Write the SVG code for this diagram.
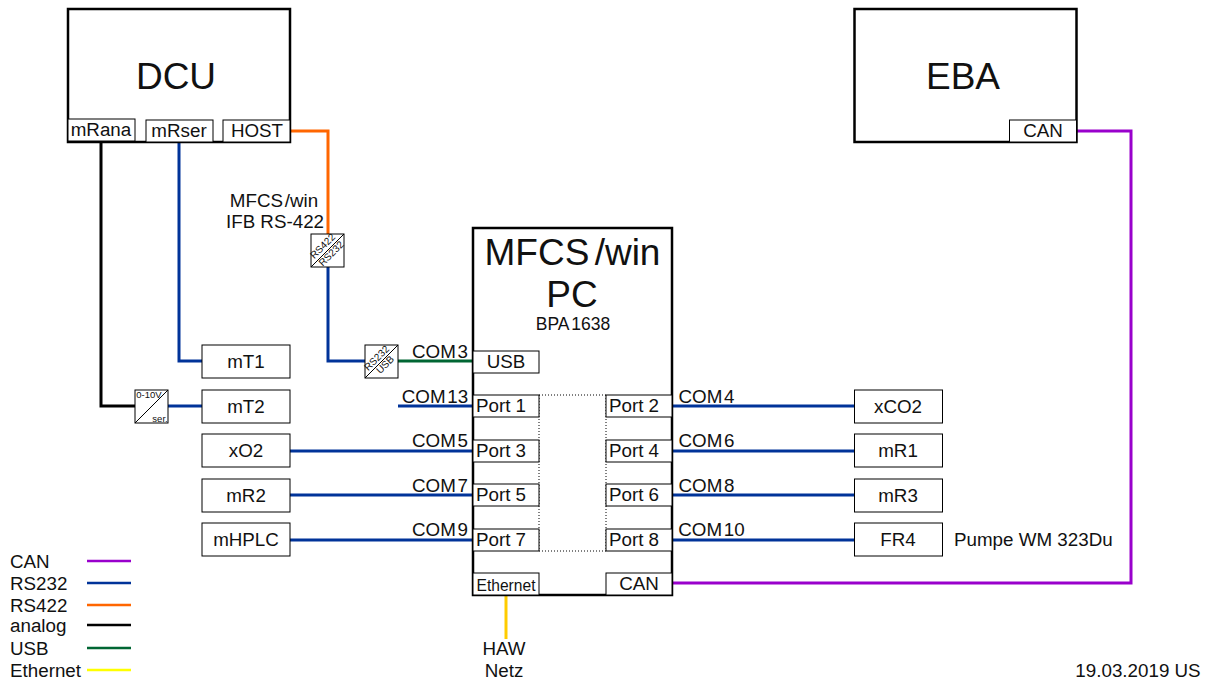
<svg xmlns="http://www.w3.org/2000/svg" width="1207" height="682" viewBox="0 0 1207 682">
<style>
text{font-family:"Liberation Sans",Arial,sans-serif;fill:#111;text-anchor:middle}
.box{fill:#fff;stroke:#000;stroke-width:1}
.big{fill:#fff;stroke:#000;stroke-width:2.5}
.w{fill:none;stroke-width:3}
.rs232{stroke:#003399}.rs422{stroke:#ff6600}.can{stroke:#9900cc}.analog{stroke:#000}.usb{stroke:#006633}.eth{stroke:#ffcc00}.ethl{stroke:#ffff00}
.l{stroke-width:2.5;fill:none}
.t{font-size:18.8px}.s{text-anchor:start;font-size:18.8px}
.c{font-size:18.8px;word-spacing:-3.5px}
.m{font-size:10px}
.d{fill:none;stroke:#000;stroke-width:1;stroke-dasharray:1 2}
</style>
<rect width="1207" height="682" fill="#fff"/>
<g id="connectors">
<path class="w rs422" d="M290 131H328V236"/>
<path class="w rs232" d="M328 267V361H365"/>
<path class="w usb" d="M398 361H473"/>
<path class="w analog" d="M101 142V406H135"/>
<path class="w rs232" d="M168 406H202"/>
<path class="w rs232" d="M179 142V361H202"/>
<path class="w rs232" d="M398 406H473"/>
<path class="w rs232" d="M290 451H473"/>
<path class="w rs232" d="M290 495H473"/>
<path class="w rs232" d="M290 540H473"/>
<path class="w rs232" d="M672 406H854"/>
<path class="w rs232" d="M672 451H854"/>
<path class="w rs232" d="M672 495H854"/>
<path class="w rs232" d="M672 540H854"/>
<path class="w can" d="M1076 131H1131V583H672"/>
<path class="w eth" d="M506 595V639"/>
</g>
<g id="dcu"><rect class="big" x="68" y="9" width="222" height="133"/><text x="176" y="89" font-size="37">DCU</text></g>
<g id="mrana"><rect class="box" x="68" y="119" width="67" height="22"/><text class="t" x="101" y="136">mRana</text></g>
<g id="mrser"><rect class="box" x="146" y="120" width="67" height="22"/><text class="t" x="179" y="137">mRser</text></g>
<g id="host"><rect class="box" x="223" y="120" width="67" height="22"/><text class="t" x="257" y="137">HOST</text></g>
<g id="eba"><rect class="big" x="854.5" y="9" width="222" height="133"/><text x="963" y="89" font-size="37">EBA</text></g>
<g id="eba-can"><rect class="box" x="1009.5" y="120" width="67" height="22"/><text class="t" x="1043" y="137">CAN</text></g>
<g id="pc"><rect class="big" x="473" y="228" width="199" height="367"/>
<text x="572.5" y="265" font-size="37" style="word-spacing:-5px">MFCS /win</text><text x="572" y="307" font-size="37">PC</text><text x="573" y="330" font-size="17.5" style="word-spacing:-2px">BPA 1638</text></g>
<path class="d" d="M539 395H606M539 551H606M539 395V551M606 395V551"/>
<g id="usb"><rect class="box" x="473" y="351" width="66" height="22"/><text class="t" x="506" y="368">USB</text></g>
<g id="port1"><rect class="box" x="473" y="395" width="66" height="22"/><text class="t" x="501" y="412">Port 1</text></g>
<g id="port2"><rect class="box" x="606" y="395" width="66" height="22"/><text class="t" x="634" y="412">Port 2</text></g>
<g id="port3"><rect class="box" x="473" y="440" width="66" height="22"/><text class="t" x="501" y="457">Port 3</text></g>
<g id="port4"><rect class="box" x="606" y="440" width="66" height="22"/><text class="t" x="634" y="457">Port 4</text></g>
<g id="port5"><rect class="box" x="473" y="484" width="66" height="22"/><text class="t" x="501" y="501">Port 5</text></g>
<g id="port6"><rect class="box" x="606" y="484" width="66" height="22"/><text class="t" x="634" y="501">Port 6</text></g>
<g id="port7"><rect class="box" x="473" y="529" width="66" height="22"/><text class="t" x="501" y="546">Port 7</text></g>
<g id="port8"><rect class="box" x="606" y="529" width="66" height="22"/><text class="t" x="634" y="546">Port 8</text></g>
<g id="ethernet"><rect class="box" x="473" y="573" width="66" height="22"/><text x="506" y="591" font-size="15.6">Ethernet</text></g>
<g id="pc-can"><rect class="box" x="606" y="573" width="66" height="22"/><text class="t" x="639" y="590">CAN</text></g>
<g id="mt1"><rect class="box" x="202" y="345" width="88" height="33"/><text class="t" x="246" y="368">mT1</text></g>
<g id="mt2"><rect class="box" x="202" y="390" width="88" height="33"/><text class="t" x="246" y="413">mT2</text></g>
<g id="xo2"><rect class="box" x="202" y="434" width="88" height="33"/><text class="t" x="246" y="457">xO2</text></g>
<g id="mr2"><rect class="box" x="202" y="479" width="88" height="33"/><text class="t" x="246" y="502">mR2</text></g>
<g id="mhplc"><rect class="box" x="202" y="523" width="88" height="33"/><text class="t" x="246" y="546">mHPLC</text></g>
<g id="xco2"><rect class="box" x="854.5" y="390" width="88" height="33"/><text class="t" x="898" y="413">xCO2</text></g>
<g id="mr1"><rect class="box" x="854.5" y="434" width="88" height="33"/><text class="t" x="898" y="457">mR1</text></g>
<g id="mr3"><rect class="box" x="854.5" y="479" width="88" height="33"/><text class="t" x="898" y="502">mR3</text></g>
<g id="fr4"><rect class="box" x="854.5" y="523" width="88" height="33"/><text class="t" x="898" y="546">FR4</text></g>
<g id="conv-422"><rect class="box" x="311" y="234" width="33" height="33"/><path d="M311 267L344 234" stroke="#000"/>
<text class="m" transform="translate(325 248.5) rotate(-45)">RS422</text><text class="m" transform="translate(333.5 256) rotate(-45)">RS232</text></g>
<g id="conv-usb"><rect class="box" x="365" y="345" width="33" height="33"/><path d="M365 378L398 345" stroke="#000"/>
<text class="m" transform="translate(379 360.5) rotate(-45)">RS232</text><text class="m" transform="translate(387.5 367) rotate(-45)">USB</text></g>
<g id="conv-analog"><rect class="box" x="135" y="390" width="33" height="33"/><path d="M135 423L168 390" stroke="#000"/>
<text font-size="9.5" x="149" y="398">0-10V</text><text font-size="9.5" x="160" y="421.5">ser.</text></g>
<g id="labels">
<text class="t" style="word-spacing:-3.5px" x="274" y="207">MFCS /win</text><text class="t" x="275" y="228">IFB RS-422</text>
<text class="c" x="440" y="358">COM 3</text><text class="c" x="435" y="403">COM 13</text><text class="c" x="440" y="447">COM 5</text><text class="c" x="440" y="492">COM 7</text><text class="c" x="440" y="536">COM 9</text>
<text class="c" x="706.5" y="403">COM 4</text><text class="c" x="706.5" y="447">COM 6</text><text class="c" x="706.5" y="492">COM 8</text><text class="c" x="711.5" y="536">COM 10</text>
<text class="s" x="954" y="546">Pumpe WM 323Du</text>
<text class="t" x="504" y="655">HAW</text><text class="t" x="504" y="677">Netz</text>
<text class="t" x="1138" y="677">19.03.2019 US</text>
</g>
<g id="legend">
<text class="s" x="10" y="568">CAN</text><text class="s" x="10" y="590">RS232</text><text class="s" x="10" y="612">RS422</text><text class="s" x="10" y="632">analog</text><text class="s" x="10" y="655">USB</text><text class="s" x="10" y="677">Ethernet</text>
<path class="l can" d="M87 561H131"/><path class="l rs232" d="M87 583H131"/><path class="l rs422" d="M87 605H131"/><path class="l analog" d="M87 625H131"/><path class="l usb" d="M87 648H131"/><path class="l ethl" d="M87 670H131"/>
</g>
</svg>
